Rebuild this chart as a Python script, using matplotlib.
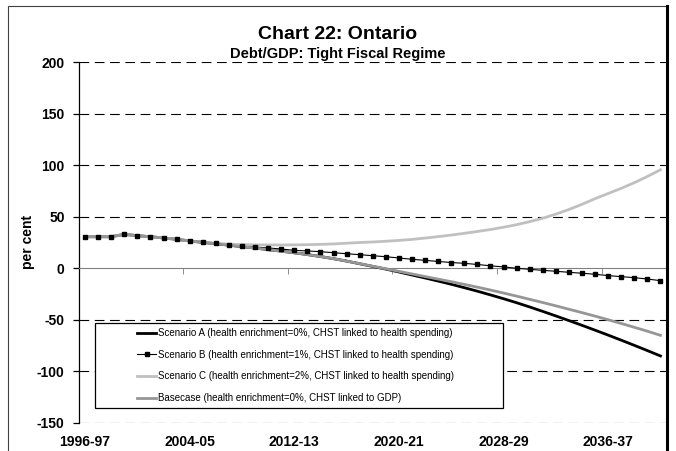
import matplotlib
matplotlib.use("Agg")
import matplotlib.pyplot as plt
from matplotlib.lines import Line2D
from matplotlib.patches import Rectangle

plt.rcParams['font.family'] = ['Liberation Sans', 'DejaVu Sans']
plt.rcParams['lines.scale_dashes'] = False
plt.rcParams['axes.unicode_minus'] = False

years = [f"{y}-{(y + 1) % 100:02d}" for y in range(1996, 2041)]

scen_a = [30.6, 30.6, 30.6, 32.9, 31.6, 30.6, 29.4, 28.1, 26.5, 25.1,
          23.8, 22.4, 21.0, 19.6, 18.1, 16.6, 15.0, 13.3, 11.4, 9.3,
          7.0, 4.4, 1.8, -0.8, -3.6, -6.5, -9.4, -12.4, -15.5, -18.8,
          -22.2, -25.8, -29.5, -33.4, -37.5, -41.8, -46.2, -50.7, -55.3, -60.0,
          -64.8, -69.7, -74.7, -79.8, -85.0]
scen_b = [30.6, 30.6, 30.6, 32.9, 31.6, 30.6, 29.4, 28.1, 26.5, 25.2,
          24.2, 22.9, 21.9, 20.6, 19.7, 18.7, 17.4, 16.8, 16.1, 15.1,
          14.1, 13.2, 12.2, 11.2, 10.0, 8.7, 7.7, 6.6, 5.6, 4.8,
          3.7, 2.4, 1.3, 0.0, -1.0, -2.0, -2.9, -3.9, -4.8, -5.8,
          -7.1, -8.1, -9.1, -10.4, -12.0]
scen_c = [30.6, 30.6, 30.6, 32.9, 31.6, 30.6, 29.4, 28.1, 26.5, 25.2,
          24.2, 23.4, 23.0, 22.7, 22.6, 22.6, 22.7, 22.9, 23.2, 23.6,
          24.3, 25.0, 25.5, 26.2, 27.0, 28.0, 29.3, 30.7, 32.2, 33.9,
          35.7, 37.6, 39.8, 42.3, 45.2, 48.5, 52.5, 57.0, 62.0, 67.5,
          72.5, 77.5, 83.0, 89.0, 95.5]
basecase = [30.6, 30.6, 30.6, 32.9, 31.6, 30.6, 29.4, 28.1, 26.5, 25.1,
            23.8, 22.4, 21.0, 19.6, 18.1, 16.6, 15.0, 13.3, 11.4, 9.3,
            7.0, 4.5, 2.0, -0.5, -3.0, -5.5, -8.0, -10.5, -13.0, -15.6,
            -18.3, -21.1, -24.0, -27.0, -30.1, -33.2, -36.4, -39.7, -43.0, -46.4,
            -49.9, -53.5, -57.2, -61.0, -65.0]

labels = ["Scenario A (health enrichment=0%, CHST linked to health spending)",
          "Scenario B (health enrichment=1%, CHST linked to health spending)",
          "Scenario C (health enrichment=2%, CHST linked to health spending)",
          "Basecase (health enrichment=0%, CHST linked to GDP)"]
yticks = [-150, -100, -50, 0, 50, 100, 150, 200]

W, H = 676, 451
fig = plt.figure(figsize=(W / 100, H / 100), dpi=100)
ax = fig.add_axes([78.5 / W, (H - 423) / H, (667 - 78.5) / W, (423 - 62) / H])

x = list(range(len(years)))
ax.plot(x, scen_a, color='black', lw=2.0, zorder=3)
ax.plot(x, scen_b, color='black', lw=0.8, zorder=3)
ax.plot(x, scen_c, color='#c0c0c0', lw=2.0, zorder=4)
ax.plot(x, basecase, color='#969696', lw=2.0, zorder=5)
ax.plot(x, scen_b, ls='none', marker='s', ms=2.3, color='black', zorder=6)

ax.set_xlim(-0.5, len(years) - 0.5)
ax.set_ylim(-150, 200)
ax.set_yticks(yticks)
# dashed gridlines everywhere except zero, where the category axis runs
for v in yticks:
    if v != 0:
        ax.axhline(v, color='black', lw=0.8, ls=(0, (7, 4)), zorder=1)

# category labels sit at the bottom, the axis line itself runs along zero
ax.set_xticks(range(0, len(years), 8))
ax.set_xticklabels(years[::8])
ax.set_xticks([i * 8 - 0.5 for i in range(1, 6)], minor=True)
ax.tick_params(axis='x', which='major', length=0, pad=9, labelsize=10)
ax.tick_params(axis='x', which='minor', bottom=False, top=True,
               direction='in', length=4, color='#808080')
ax.spines['top'].set_position(('data', 0))
ax.spines['top'].set_color('#808080')
ax.spines['bottom'].set_visible(False)
ax.spines['right'].set_visible(False)
ax.spines['left'].set_linewidth(0.9)
ax.tick_params(axis='y', length=4, width=0.9, pad=6, labelsize=10)
for t in ax.get_xticklabels() + ax.get_yticklabels():
    t.set_fontweight('bold')

fig.text(28 / W, (H - 242) / H, 'per cent', rotation=90, ha='center', va='center',
         fontsize=10, fontweight='bold')

fig.text(337.5 / W, (H - 39) / H, 'Chart 22: Ontario', ha='center', va='baseline',
         fontsize=14, fontweight='bold')
fig.text(337.5 / W, (H - 58) / H, 'Debt/GDP: Tight Fiscal Regime', ha='center',
         va='baseline', fontsize=10.5, fontweight='bold')

# chart frame
fig.patches.append(Rectangle((8 / W, -0.1), (667 - 8) / W, (H - 6) / H + 0.1,
                             transform=fig.transFigure, fill=False,
                             edgecolor='#404040', lw=0.8))
fig.lines.append(Line2D([667 / W, 667 / W], [0, (H - 6) / H],
                        transform=fig.transFigure, color='black', lw=2.2))

# legend box and entries
fig.patches.append(Rectangle((95 / W, (H - 408) / H), (503 - 95) / W, (408 - 323) / H,
                             transform=fig.transFigure, facecolor='white',
                             edgecolor='black', lw=0.9, zorder=8))
handles = [Line2D([], [], color='black', lw=2.0),
           Line2D([], [], color='black', lw=0.8, marker='s', ms=2.3),
           Line2D([], [], color='#c0c0c0', lw=2.0),
           Line2D([], [], color='#969696', lw=2.0)]
leg = fig.legend(handles, labels, loc='upper left',
                 bbox_to_anchor=(137 / W, (H - 328) / H), frameon=False,
                 fontsize=7, handlelength=2.0, handletextpad=0.2,
                 labelspacing=1.2, borderpad=0, borderaxespad=0)
leg.set_zorder(9)

fig.savefig('out.png', dpi=100)
